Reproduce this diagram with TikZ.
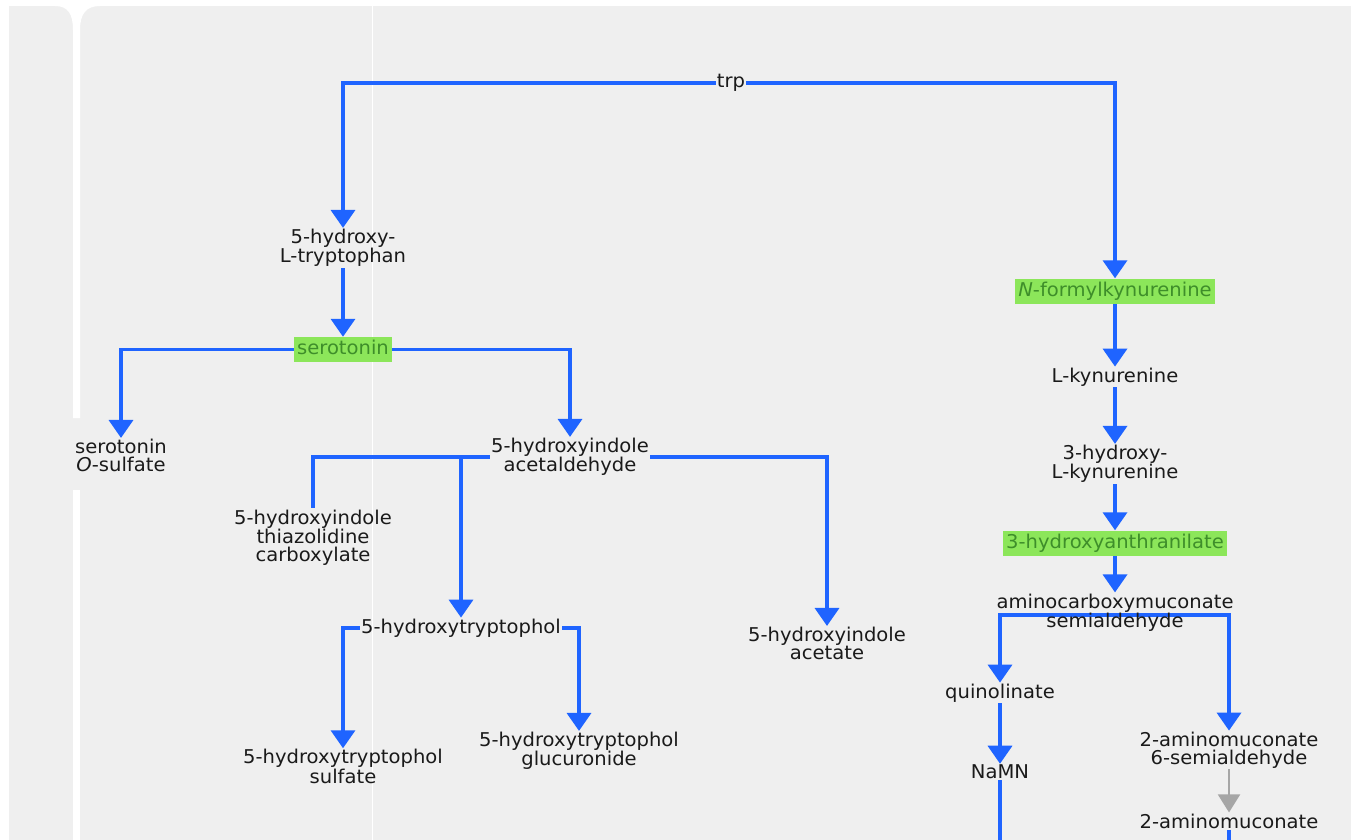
\documentclass[tikz,border=0pt]{standalone}
\usepackage{fontspec}
\newfontfamily\pwfont[FakeStretch=1.03]{DejaVu Sans}
\usetikzlibrary{arrows.meta, positioning, calc, backgrounds}
\definecolor{pwblue}{HTML}{1F64FF}
\definecolor{pwgreen}{HTML}{8CE65A}
\definecolor{pwgreentext}{HTML}{3E8E2A}
\definecolor{pwpanel}{HTML}{EFEFEF}
\definecolor{pwgray}{HTML}{A6A6A6}
\definecolor{pwtext}{HTML}{1A1A1A}

\begin{document}
\begin{tikzpicture}[x=1pt, y=-1pt,
  met/.style={font=\pwfont\fontsize{19}{18}\selectfont, text=pwtext, align=center, inner sep=1pt},
  hit/.style={met, fill=pwgreen, text=pwgreentext, inner xsep=3pt, inner ysep=3.5pt,
    text height=14pt, text depth=4pt},
  link/.style={pwblue, line width=3.6pt},
  flow/.style={link, -{Triangle[width=24pt,length=18pt]}},
  weak/.style={pwgray, line width=2pt, -{Triangle[width=22pt,length=18pt]}}]
  \useasboundingbox (0,0) rectangle (1351,840);

  % Serotonin side
  \node[met] (trp) at (731,83) {trp};
  \node[met] (htp) at (343,248) {5-hydroxy-\\L-tryptophan};
  \node[hit] (sero) at (343,349.5) {serotonin};
  \node[met] (sosulf) at (121,455.5) {serotonin\\\textit{O}-sulfate};
  \node[met] (acet) at (570,457) {5-hydroxyindole\\acetaldehyde};
  \node[met] (thia) at (313,537.5) {5-hydroxyindole\\thiazolidine\\carboxylate};
  \node[met] (tol) at (461,628) {5-hydroxytryptophol};
  \node[met] (iaa) at (827,643.5) {5-hydroxyindole\\acetate};
  \node[met] (tolsulf) at (343,766.5) {5-hydroxytryptophol\\sulfate};
  \node[met] (tolgluc) at (579,751) {5-hydroxytryptophol\\glucuronide};

  % Kynurenine side
  \node[hit] (nfk) at (1115,291) {\textit{N}-formylkynurenine};
  \node[met] (kyn) at (1115,377) {L-kynurenine};
  \node[met] (hk) at (1115,464) {3-hydroxy-\\L-kynurenine};
  \node[hit] (haa) at (1115,543) {3-hydroxyanthranilate};
  \node[met] (acms) at (1115,612.5) {aminocarboxymuconate\\semialdehyde};
  \node[met] (quin) at (1000,693) {quinolinate};
  \node[met] (namn) at (1000,772) {NaMN};
  \node[met] (ams) at (1229,750) {2-aminomuconate\\6-semialdehyde};
  \node[met] (am) at (1229,821) {2-aminomuconate};
  \coordinate (acmsfork) at (1115,615);
  \coordinate (namnout) at (1000,840);
  \coordinate (amout) at (1229,840);

  \begin{scope}[on background layer]
    % panels
    \fill[white] (0,0) rectangle (1351,840);
    \fill[pwpanel] (9,6) rectangle (1351,840);
    \fill[white] (55,6) .. controls (68,6) and (73,14) .. (73,30) -- (73,418)
      -- (80,418) -- (80,30) .. controls (80,14) and (86,6) .. (100,6) -- cycle;
    \fill[white] (73,490) rectangle (80,840);
    \draw[white, line width=1pt] (372,6) -- (372,840);

    % reactions
    \draw[flow] (trp.west) -| (htp.north);
    \draw[flow] (trp.east) -| (nfk.north);
    \draw[flow] (htp.south) -- (sero.north);
    \draw[flow] (sero.west) -| (sosulf.north);
    \draw[flow] (sero.east) -| (acet.north);
    \draw[link] (acet.west) -| (thia.north);
    \draw[flow] (acet.west -| tol.north) -- (tol.north);
    \draw[flow] (acet.east) -| (iaa.north);
    \draw[flow] (tol.west) -| (tolsulf.north);
    \draw[flow] (tol.east) -| (tolgluc.north);

    \draw[flow] (nfk.south) -- (kyn.north);
    \draw[flow] (kyn.south) -- (hk.north);
    \draw[flow] (hk.south) -- (haa.north);
    \draw[flow] (haa.south) -- (acms.north);
    \draw[flow] (acmsfork) -| (quin.north);
    \draw[flow] (acmsfork) -| (ams.north);
    \draw[flow] (quin.south) -- (namn.north);
    \draw[link] (namn.south) -- (namnout);
    \draw[weak] (ams.south) -- (am.north);
    \draw[link] (am.south) -- (amout);
  \end{scope}
\end{tikzpicture}
\end{document}
